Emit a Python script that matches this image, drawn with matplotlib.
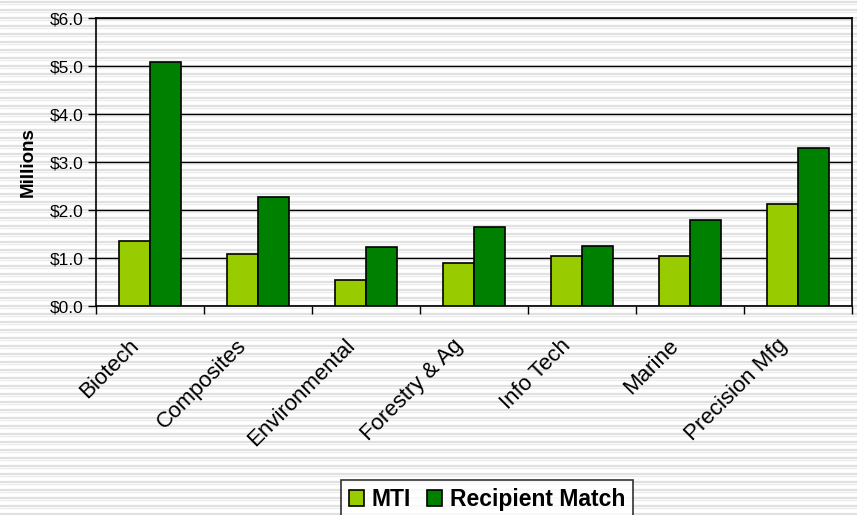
import numpy as np
import matplotlib
matplotlib.use("Agg")
import matplotlib.pyplot as plt
import matplotlib.transforms as mtransforms
from matplotlib.ticker import FuncFormatter, FixedLocator

plt.rcParams['font.family'] = ['Liberation Sans', 'DejaVu Sans']

categories = ["Biotech", "Composites", "Environmental", "Forestry & Ag",
              "Info Tech", "Marine", "Precision Mfg"]
mti = [1.35, 1.08, 0.55, 0.90, 1.04, 1.04, 2.12]
recipient = [5.09, 2.28, 1.23, 1.64, 1.26, 1.79, 3.29]
series_names = ["MTI", "Recipient Match"]
y_ticks = [0, 1, 2, 3, 4, 5, 6]

W, H = 857, 515
fig = plt.figure(figsize=(W / 100, H / 100), dpi=100)
fig.patch.set_facecolor('white')

# striped background
bg = fig.add_axes([0, 0, 1, 1], zorder=-10)
bg.set_xlim(0, 1)
bg.set_ylim(H, 0)
bg.axis('off')
bg.hlines(np.arange(2, H, 8), 0, 1, colors='#e0e0e0', linewidth=1.6)
bg.hlines(np.arange(4, H, 8), 0, 1, colors='#ebebeb', linewidth=0.8)

ax = fig.add_axes([96 / W, 1 - 306 / H, (852 - 96) / W, (306 - 18) / H])
ax.set_facecolor('none')

x = np.arange(len(categories))
w = 0.287
ax.bar(x - w / 2, mti, w, color='#99cc00', edgecolor='black', linewidth=1.2,
       label=series_names[0], zorder=3)
ax.bar(x + w / 2, recipient, w, color='#008000', edgecolor='black', linewidth=1.2,
       label=series_names[1], zorder=3)

ax.set_xlim(-0.5, len(categories) - 0.5)
ax.set_ylim(0, 6)
ax.set_yticks(y_ticks)
ax.yaxis.set_major_formatter(FuncFormatter(lambda v, p: f"${v:.1f}"))
ax.tick_params(axis='y', direction='out', length=6, width=1, labelsize=12.5, pad=3)
ax.grid(axis='y', color='black', linewidth=1, zorder=1)

ax.xaxis.set_major_locator(FixedLocator(np.arange(len(categories) + 1) - 0.5))
ax.xaxis.set_minor_locator(FixedLocator(x))
ax.tick_params(axis='x', which='major', direction='out', length=6, width=1, labelbottom=False)
ax.tick_params(axis='x', which='minor', length=0, pad=21)
labels = ax.set_xticklabels(categories, minor=True, rotation=45, ha='right', va='top',
                            fontsize=16)
offset = mtransforms.ScaledTranslation(-7 / 100, 0, fig.dpi_scale_trans)
for lab in labels:
    lab.set_transform(lab.get_transform() + offset)

for s in ax.spines.values():
    s.set_linewidth(1.2)
    s.set_color('black')

ax.set_ylabel("Millions", fontsize=13.5, fontweight='bold', labelpad=9)

leg = fig.legend(loc='upper center', bbox_to_anchor=(487 / W, 1 - 480 / H),
                 ncol=2, frameon=True, fancybox=False, edgecolor='black',
                 prop={'size': 16.5, 'weight': 'bold'}, handlelength=0.65,
                 handleheight=0.65, handletextpad=0.35, columnspacing=0.7,
                 borderpad=0.35, borderaxespad=0)
leg.get_frame().set_linewidth(1.2)

fig.savefig("out.png", dpi=100)
